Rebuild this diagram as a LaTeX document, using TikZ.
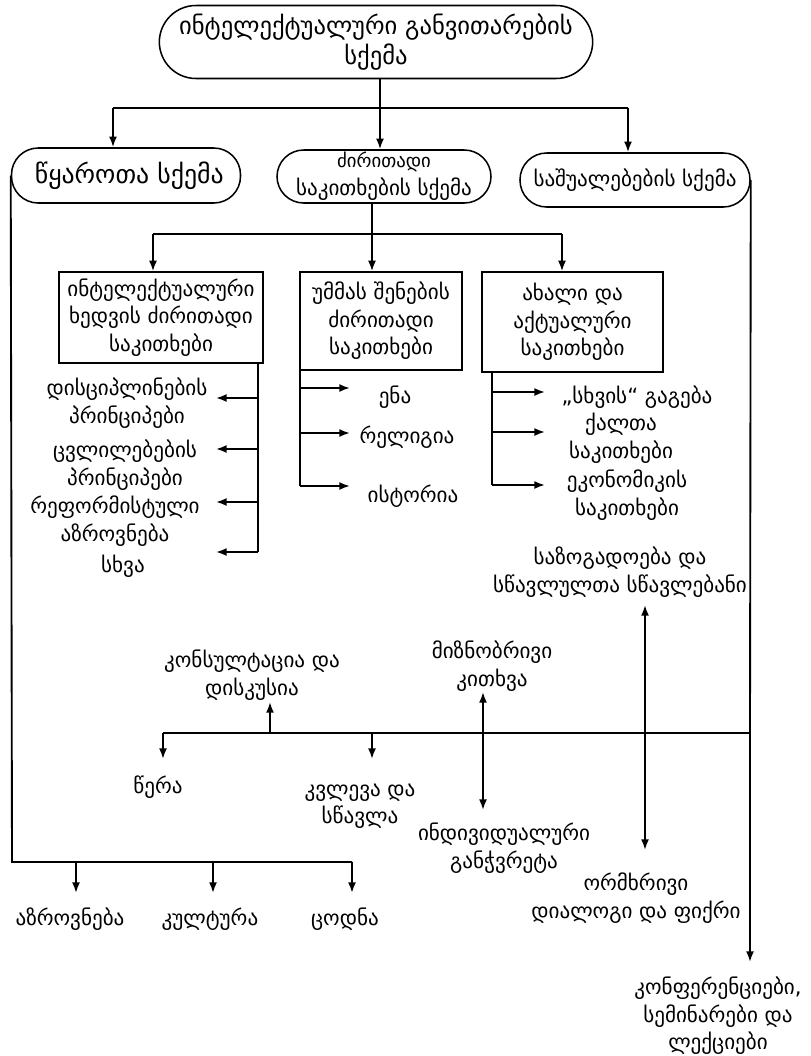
\documentclass[tikz,border=0pt]{standalone}
\usepackage{fontspec}
\setmainfont{DejaVu Sans}
\usepackage{tikz}
\usetikzlibrary{positioning}
\usetikzlibrary{arrows.meta}
\newcommand{\lblfont}{\fontsize{18pt}{23.5pt}\selectfont}
\newcommand{\topfont}{\fontsize{21pt}{25pt}\selectfont}
\newcommand{\bigfont}{\fontsize{22pt}{26pt}\selectfont}
\newcommand{\pillfont}{\fontsize{18pt}{24pt}\selectfont}
\newcommand{\smlfont}{\fontsize{16pt}{22pt}\selectfont}

\begin{document}
\begin{tikzpicture}[x=0.03cm, y=-0.03cm,
	pill/.style={draw, rectangle, rounded corners=0.8cm, align=center, line width=1.3pt, inner sep=0pt, font=\pillfont},
	box/.style={draw, rectangle, align=center, line width=1.1pt, inner sep=0pt, font=\lblfont},
	txt/.style={align=center, inner sep=0pt, font=\lblfont, yshift=-0.12cm},
	wire/.style={draw, line width=1.6pt},
	post/.style={-{Latex[length=0.32cm,width=0.24cm]}, line width=1.6pt},
	both/.style={{Latex[length=0.32cm,width=0.24cm]}-{Latex[length=0.32cm,width=0.24cm]}, line width=1.6pt}]

	\useasboundingbox (0,0) rectangle (811,1056);

	% Schemes
	\node[pill, rounded corners=1.1cm, minimum width=13cm, minimum height=2.19cm, font=\topfont] (top) at (376,42) {ინტელექტუალური განვითარების\\სქემა};
	\node[pill, minimum width=6.87cm, minimum height=1.65cm, font=\bigfont] (src) at (126,175.5) {\hspace{0.2cm}წყაროთა სქემა};
	\node[pill, minimum width=6.42cm, minimum height=1.59cm] (kp) at (384,176.5) {{\smlfont ძირითადი}\\საკითხების სქემა};
	\node[pill, minimum width=6.9cm, minimum height=1.62cm] (mean) at (635,180) {საშუალებების სქემა};

	\coordinate (tl) at (113,108);
	\coordinate (tm) at (380,108);
	\coordinate (tr) at (628,108);
	\path[wire] (top.south -| tm) -- (tm);
	\path[wire] (tl) -- (tr);
	\draw[post] (tl) -- (tl |- src.north);
	\draw[post] (tm) -- (tm |- kp.north);
	\draw[post] (tr) -- (tr |- mean.north);

	% Key issues
	\node[box, minimum width=6.12cm, minimum height=2.73cm] (b1) at (161,317.5) {ინტელექტუალური\\ხედვის ძირითადი\\საკითხები};
	\node[box, minimum width=4.86cm, minimum height=2.94cm] (b2) at (381,321) {უმმას შენების\\ძირითადი\\საკითხები};
	\node[box, minimum width=5.43cm, minimum height=3cm] (b3) at (572.5,322) {ახალი და\\აქტუალური\\საკითხები};

	\coordinate (ml) at (153,234);
	\coordinate (mm) at (372,234);
	\coordinate (mr) at (562,234);
	\path[wire] (kp.south -| mm) -- (mm);
	\path[wire] (ml) -- (mr);
	\draw[post] (ml) -- (ml |- b1.north);
	\draw[post] (mm) -- (mm |- b2.north);
	\draw[post] (mr) -- (mr |- b3.north);

	% Intellectual view
	\node[txt] (d1) at (127,399) {დისციპლინების\\პრინციპები};
	\node[txt] (d2) at (125,461) {ცვლილებების\\პრინციპები};
	\node[txt] (d3) at (115,517) {რეფორმისტული\\აზროვნება};
	\node[txt] (d4) at (123,562) {სხვა};
	\coordinate (bus1) at (258,552);
	\path[wire] (b1.south -| bus1) -- (bus1);
	\foreach \y [count=\i] in {398,449,502,552} {
		\coordinate (e\i) at (216,\y);
		\draw[post] (bus1 |- e\i) -- (e\i);
	}

	% Ummah
	\node[txt] (u1) at (395,393) {ენა};
	\node[txt] (u2) at (407,433) {რელიგია};
	\node[txt] (u3) at (413,492) {ისტორია};
	\coordinate (bus2) at (300,486);
	\path[wire] (b2.south -| bus2) -- (bus2);
	\foreach \y [count=\i] in {388,433,486} {
		\coordinate (f\i) at (350,\y);
		\draw[post] (bus2 |- f\i) -- (f\i);
	}

	% New issues
	\node[txt] (n1) at (637,393) {„სხვის“ გაგება};
	\node[txt] (n2) at (621,434) {ქალთა\\საკითხები};
	\node[txt] (n3) at (627,491) {ეკონომიკის\\საკითხები};
	\coordinate (bus3) at (492,485);
	\path[wire] (b3.south -| bus3) -- (bus3);
	\foreach \y [count=\i] in {392,432,485} {
		\coordinate (g\i) at (545,\y);
		\draw[post] (bus3 |- g\i) -- (g\i);
	}

	% Means
	\node[txt] (soc) at (620,568) {საზოგადოება და\\სწავლულთა სწავლებანი};
	\node[txt] (cons) at (252,671) {კონსულტაცია და\\დისკუსია};
	\node[txt] (aim) at (492,662) {მიზნობრივი\\კითხვა};
	\node[txt] (wr) at (158,783) {წერა};
	\node[txt] (res) at (360,802) {კვლევა და\\სწავლა};
	\node[txt] (ins) at (504,844) {ინდივიდუალური\\განჭვრეტა};
	\node[txt] (dia) at (636,894) {ორმხრივი\\დიალოგი და ფიქრი};
	\node[txt] (conf) at (718,1012) {კონფერენციები,\\სემინარები და\\ლექციები};

	\coordinate (rb) at (750,733);
	\coordinate (lb) at (163,733);
	\coordinate (rend) at (750,962);
	\path[wire] (mean.east) -- (rb);
	\draw[post] (rb) -- (rend);
	\path[wire] (lb) -- (rb);
	\coordinate (wend) at (163,759);
	\coordinate (rsend) at (372,759);
	\coordinate (cend) at (270,702);
	\draw[post] (lb) -- (wend);
	\draw[post] (lb -| rsend) -- (rsend);
	\draw[post] (lb -| cend) -- (cend);
	\coordinate (q1) at (483,692);
	\coordinate (q2) at (483,810);
	\draw[both] (q1) -- (q2);
	\coordinate (s1) at (645,605);
	\coordinate (s2) at (645,850);
	\draw[both] (s1) -- (s2);

	% Sources
	\coordinate (sb) at (12,862);
	\coordinate (se) at (352,862);
	\path[wire] (src.west) -- (sb) -- (se);
	\node[txt] (th) at (70,915) {აზროვნება};
	\node[txt] (cu) at (210,915) {კულტურა};
	\node[txt] (kn) at (345,915) {ცოდნა};
	\foreach \x [count=\i] in {76,213,352} {
		\coordinate (h\i) at (\x,893);
		\draw[post] (sb -| h\i) -- (h\i);
	}
\end{tikzpicture}
\end{document}
